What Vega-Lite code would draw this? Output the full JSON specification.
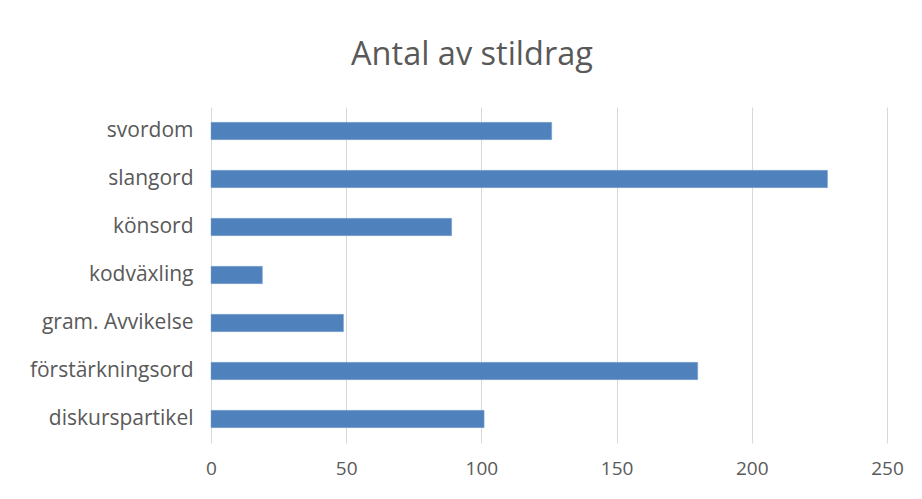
{
  "$schema": "https://vega.github.io/schema/vega-lite/v6.json",
  "width": 676,
  "height": 336,
  "autosize": {"type": "none"},
  "padding": {"left": 211, "top": 107, "right": 35, "bottom": 56},
  "background": "white",
  "title": {
    "text": "Antal av stildrag",
    "font": "Open Sans",
    "fontSize": 32.5,
    "fontWeight": "normal",
    "color": "#595959",
    "anchor": "middle",
    "dx": -77,
    "offset": 36
  },
  "data": {
    "values": [
      {"kategori": "svordom", "antal": 126},
      {"kategori": "slangord", "antal": 228},
      {"kategori": "könsord", "antal": 89},
      {"kategori": "kodväxling", "antal": 19},
      {"kategori": "gram. Avvikelse", "antal": 49},
      {"kategori": "förstärkningsord", "antal": 180},
      {"kategori": "diskurspartikel", "antal": 101}
    ]
  },
  "mark": {"type": "bar", "color": "#4f81bd", "stroke": "#7fa3d0", "strokeWidth": 0.5},
  "encoding": {
    "y": {
      "field": "kategori",
      "type": "nominal",
      "sort": ["svordom", "slangord", "könsord", "kodväxling", "gram. Avvikelse", "förstärkningsord", "diskurspartikel"],
      "scale": {"paddingInner": 0.64, "paddingOuter": 0.32},
      "axis": {
        "title": null,
        "ticks": false,
        "domain": false,
        "labelFont": "Open Sans",
        "labelFontSize": 21,
        "labelColor": "#595959",
        "labelPadding": 18
      }
    },
    "x": {
      "field": "antal",
      "type": "quantitative",
      "scale": {"domain": [0, 250], "nice": false},
      "axis": {
        "title": null,
        "values": [0, 50, 100, 150, 200, 250],
        "ticks": false,
        "domain": false,
        "grid": true,
        "gridColor": "#d9d9d9",
        "gridWidth": 1,
        "labelFont": "Open Sans",
        "labelFontSize": 19,
        "labelColor": "#595959",
        "labelPadding": 16,
        "labelFlush": false
      }
    }
  },
  "config": {"view": {"stroke": null}}
}
